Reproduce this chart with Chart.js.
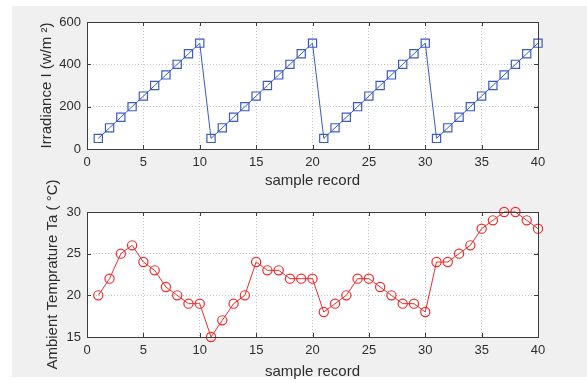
<!DOCTYPE html>
<html>
<head>
<meta charset="utf-8">
<script src="https://cdn.jsdelivr.net/npm/chart.js@4"></script>
<style>
  body { margin: 0; background: #fff; width: 587px; height: 383px; position: relative; overflow: hidden; }
  #panel { position: absolute; left: 12px; top: 6px; width: 575px; height: 371px; background: #f0f0f0; }
  canvas { position: absolute; left: 0; }
  #topChart { top: 0; }
  #bottomChart { top: 167px; }
</style>
</head>
<body>
<div id="panel"></div>
<canvas id="topChart" width="587" height="192"></canvas>
<canvas id="bottomChart" width="587" height="216"></canvas>
<script>
// Data
const sampleRecord = [1,2,3,4,5,6,7,8,9,10,11,12,13,14,15,16,17,18,19,20,
                      21,22,23,24,25,26,27,28,29,30,31,32,33,34,35,36,37,38,39,40];
const irradiance = [50,100,150,200,250,300,350,400,450,500,
                    50,100,150,200,250,300,350,400,450,500,
                    50,100,150,200,250,300,350,400,450,500,
                    50,100,150,200,250,300,350,400,450,500];
const ambientTemp = [20,22,25,26,24,23,21,20,19,19,
                     15,17,19,20,24,23,23,22,22,22,
                     18,19,20,22,22,21,20,19,19,18,
                     24,24,25,26,28,29,30,30,29,28];
const xTicks = [0,5,10,15,20,25,30,35,40];
const irrTicks = [0,200,400,600];
const tempTicks = [15,20,25,30];

const FONT = "'Liberation Sans', Arial, sans-serif";
const TXT = '#2e2e2e';

// white plot area + MATLAB style box with inward ticks
const boxPlugin = {
  id: 'box',
  beforeDraw(chart) {
    const a = chart.chartArea, ctx = chart.ctx;
    ctx.save();
    ctx.fillStyle = '#ffffff';
    ctx.fillRect(a.left, a.top, a.right - a.left, a.bottom - a.top);
    ctx.restore();
  },
  afterDatasetsDraw(chart) {
    const a = chart.chartArea, ctx = chart.ctx;
    const xs = chart.scales.x, ys = chart.scales.y;
    ctx.save();
    ctx.strokeStyle = '#3c3c3c';
    ctx.lineWidth = 1;
    ctx.beginPath();
    xs.ticks.forEach(t => {
      const px = Math.round(xs.getPixelForValue(t.value)) + 0.5;
      ctx.moveTo(px, a.bottom); ctx.lineTo(px, a.bottom - 4);
      ctx.moveTo(px, a.top); ctx.lineTo(px, a.top + 4);
    });
    ys.ticks.forEach(t => {
      const py = Math.round(ys.getPixelForValue(t.value)) + 0.5;
      ctx.moveTo(a.left, py); ctx.lineTo(a.left + 4, py);
      ctx.moveTo(a.right, py); ctx.lineTo(a.right - 4, py);
    });
    ctx.stroke();
    ctx.strokeRect(Math.round(a.left) + 0.5, Math.round(a.top) + 0.5,
                   Math.round(a.right - a.left), Math.round(a.bottom - a.top));
    ctx.restore();
  }
};

function makeChart(id, values, color, pointStyle, radius, yMin, yMax, yTicks, yTitle, topPad, xAxisH, yTitlePad) {
  return new Chart(document.getElementById(id), {
    type: 'line',
    data: {
      datasets: [{
        data: sampleRecord.map((x, i) => ({ x: x, y: values[i] })),
        borderColor: color,
        borderWidth: 1,
        backgroundColor: 'rgba(0,0,0,0)',
        pointStyle: pointStyle,
        pointRadius: radius,
        pointBorderColor: color,
        pointBorderWidth: 1.2,
        pointBackgroundColor: 'rgba(0,0,0,0)',
        tension: 0,
        clip: false
      }]
    },
    options: {
      responsive: false,
      animation: false,
      devicePixelRatio: 1,
      layout: { padding: { left: 0, right: 49, top: topPad, bottom: 0 } },
      plugins: { legend: { display: false }, tooltip: { enabled: false } },
      scales: {
        x: {
          type: 'linear', min: 0, max: 40,
          afterBuildTicks: s => { s.ticks = xTicks.map(v => ({ value: v })); },
          afterFit: s => { s.height = xAxisH; },
          ticks: { color: TXT, font: { family: FONT, size: 13 }, padding: 6, maxRotation: 0 },
          grid: { color: '#c4c4c4', drawTicks: false },
          border: { display: false, dash: [1, 2] },
          title: { display: true, text: 'sample record', color: TXT,
                   font: { family: FONT, size: 15 }, padding: { top: 0, bottom: 2 } }
        },
        y: {
          min: yMin, max: yMax,
          afterBuildTicks: s => { s.ticks = yTicks.map(v => ({ value: v })); },
          afterFit: s => { s.width = 87; },
          ticks: { color: TXT, font: { family: FONT, size: 13 }, padding: 6 },
          grid: { color: '#c4c4c4', drawTicks: false },
          border: { display: false, dash: [1, 2] },
          title: { display: true, text: yTitle, color: TXT,
                   font: { family: FONT, size: 15 }, padding: { top: yTitlePad, bottom: 0 } }
        }
      }
    },
    plugins: [boxPlugin]
  });
}

makeChart('topChart', irradiance, '#3a5bc4', 'rect', 5.8, 0, 600, irrTicks,
          'Irradiance I (w/m \u00b2)', 22, 43, 38);
makeChart('bottomChart', ambientTemp, '#f22a2a', 'circle', 4.6, 15, 30, tempTicks,
          'Ambient Temprature Ta ( \u00b0C)', 45, 46, 44);
</script>
</body>
</html>
